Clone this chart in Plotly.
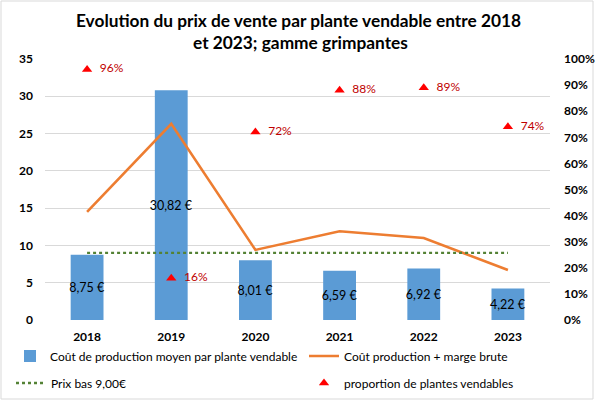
import plotly.graph_objects as go

years = ["2018", "2019", "2020", "2021", "2022", "2023"]
cout_production = [8.75, 30.82, 8.01, 6.59, 6.92, 4.22]
cout_plus_marge = [14.5, 26.3, 9.4, 11.9, 11.0, 6.7]
prix_bas = [9.0, 9.0, 9.0, 9.0, 9.0, 9.0]
proportion = [0.96, 0.16, 0.72, 0.88, 0.89, 0.74]

bar_labels = [f"{v:.2f}".replace(".", ",") + " €" for v in cout_production]
prop_labels = [f"{round(p*100)}%" for p in proportion]

FONT = "Lato"
W, H = 597, 403
L, R, T, B = 45, 47, 59, 83
PW, PH = W - L - R, H - T - B

fig = go.Figure()
fig.add_trace(go.Bar(
    x=years, y=cout_production, width=0.39,
    marker=dict(color="#5b9bd5", line=dict(width=0)),
    text=bar_labels, textposition="inside", insidetextanchor="middle",
    textangle=0, constraintext="none",
    textfont=dict(family=FONT, size=12.5, color="#000000"),
    name="Coût de production moyen par plante vendable", legend="legend",
    showlegend=True,
))
fig.add_trace(go.Scatter(
    x=years, y=cout_plus_marge, mode="lines",
    line=dict(color="#ed7d31", width=2.6),
    name="Coût production + marge brute", legend="legend2", showlegend=True,
))
fig.add_trace(go.Scatter(
    x=years, y=prix_bas, mode="lines",
    line=dict(color="#548235", width=2.4, dash="dot"),
    name="Prix bas 9,00€", legend="legend3", showlegend=True,
))
fig.add_trace(go.Scatter(
    x=years, y=proportion, yaxis="y2", mode="markers+text",
    marker=dict(symbol="triangle-up", size=9, color="#ff0000"),
    text=["  " + t for t in prop_labels], textposition="middle right",
    textfont=dict(family=FONT, size=12, color="#c00000"),
    name="proportion de plantes vendables", legend="legend4",
    cliponaxis=False, showlegend=True,
))

def leg(xpx, ypx):
    return dict(
        orientation="h", xref="container", yref="container",
        x=xpx / W, y=(H - ypx) / H, xanchor="left", yanchor="middle",
        font=dict(family=FONT, size=12, color="#000000"),
        bgcolor="rgba(0,0,0,0)", visible=True,
    )

fig.update_layout(
    width=W, height=H, showlegend=True,
    margin=dict(l=L, r=R, t=T, b=B, autoexpand=False),
    paper_bgcolor="white", plot_bgcolor="white",
    font=dict(family=FONT, size=12, color="#000000"),
    title=dict(
        text="Evolution du prix de vente par plante vendable entre 2018",
        x=0.5, xref="container", xanchor="center",
        y=1 - 21 / H, yref="container", yanchor="middle",
        font=dict(family=FONT, size=17.3, color="#000000", weight="bold"),
    ),
    annotations=[dict(
        text="et 2023; gamme grimpantes", showarrow=False,
        xref="paper", yref="paper",
        x=(W * 0.503 - L) / PW, y=(PH + T - 43) / PH,
        xanchor="center", yanchor="middle",
        font=dict(family=FONT, size=17.3, color="#000000", weight="bold"),
    )],
    xaxis=dict(
        type="category", showgrid=False, showline=False, zeroline=False,
        tickfont=dict(family=FONT, size=12, color="#000000", weight="bold"),
        ticklabelstandoff=8,
    ),
    yaxis=dict(
        range=[0, 35], dtick=5, showgrid=True, gridcolor="#d9d9d9", gridwidth=1,
        zeroline=False, showline=False,
        tickfont=dict(family=FONT, size=12, color="#000000", weight="bold"),
        ticklabelstandoff=11,
    ),
    yaxis2=dict(
        range=[0, 1], dtick=0.1, tickformat=".0%", overlaying="y", side="right",
        showgrid=False, zeroline=False, showline=False,
        tickfont=dict(family=FONT, size=12, color="#000000", weight="bold"),
        ticklabelstandoff=13,
    ),
    legend=leg(10, 356),
    legend2=leg(304, 356),
    legend3=leg(11, 383),
    legend4=leg(304, 383),
    shapes=[dict(
        type="rect", xref="paper", yref="paper",
        x0=(1 - L) / PW, x1=(W - 4 - L) / PW,
        y0=(PH - (H - 4 - T)) / PH, y1=(PH + T - 1) / PH,
        line=dict(color="#d9d9d9", width=1), layer="below",
    )],
)

fig.write_html(
    "out.html",
    config={"displayModeBar": False},
    post_script="document.body.style.margin='0';document.body.style.padding='0';",
)
